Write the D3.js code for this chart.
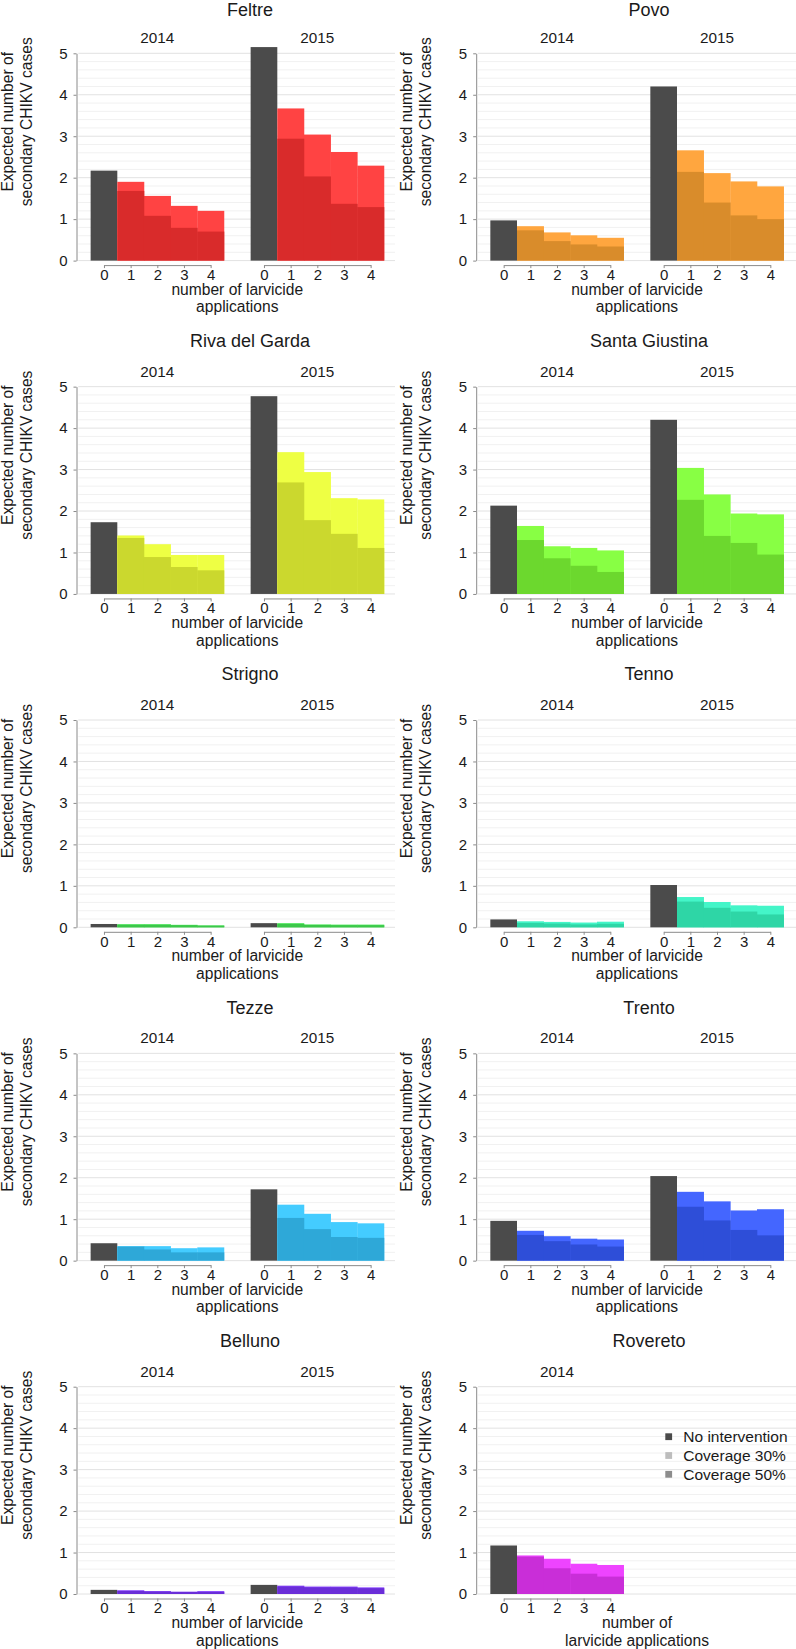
<!DOCTYPE html>
<html><head><meta charset="utf-8">
<script src="https://cdn.jsdelivr.net/npm/d3@7"></script>
<style>
body{margin:0;background:#fff}
text{font-family:"Liberation Sans",Arial,Helvetica,sans-serif;fill:#1a1a1a}
</style>
</head><body>
<svg id="chart" width="796" height="1649"></svg>
<script>
// ---------------- data ----------------
const municipalities = ["Feltre","Povo","Riva del Garda","Santa Giustina","Strigno","Tenno","Tezze","Trento","Belluno","Rovereto"];
const years = ["2014","2015"];
const applications = [0,1,2,3,4];
const yTicks = [0,1,2,3,4,5];

const noIntervention2014 = [2.17, 0.97, 1.73, 2.13, 0.08, 0.19, 0.42, 0.96, 0.10, 1.17];
const noIntervention2015 = [5.15, 4.20, 4.77, 4.20, 0.10, 1.02, 1.72, 2.04, 0.22, null];

const coverage30_2014 = [
  [1.90,1.56,1.32,1.20],
  [0.83,0.68,0.61,0.55],
  [1.41,1.20,0.94,0.94],
  [1.64,1.15,1.11,1.05],
  [0.075,0.075,0.06,0.045],
  [0.145,0.13,0.115,0.135],
  [0.35,0.35,0.30,0.32],
  [0.72,0.59,0.53,0.51],
  [0.09,0.07,0.055,0.07],
  [0.93,0.85,0.73,0.70]
];
const coverage50_2014 = [
  [1.68,1.08,0.79,0.70],
  [0.73,0.47,0.39,0.34],
  [1.35,0.89,0.65,0.57],
  [1.30,0.86,0.68,0.53],
  [0.06,0.06,0.05,0.04],
  [0.105,0.09,0.07,0.085],
  [0.34,0.27,0.20,0.20],
  [0.62,0.47,0.39,0.34],
  [0.075,0.06,0.05,0.05],
  [0.90,0.62,0.49,0.42]
];
const coverage30_2015 = [
  [3.67,3.04,2.62,2.29],
  [2.66,2.11,1.91,1.79],
  [3.42,2.94,2.31,2.28],
  [3.04,2.40,1.94,1.92],
  [0.10,0.07,0.065,0.065],
  [0.73,0.61,0.53,0.52],
  [1.35,1.13,0.93,0.90],
  [1.66,1.43,1.21,1.24],
  [0.20,0.18,0.18,0.16],
  null
];
const coverage50_2015 = [
  [2.94,2.03,1.37,1.29],
  [2.14,1.40,1.09,1.00],
  [2.69,1.78,1.45,1.11],
  [2.27,1.40,1.23,0.95],
  [0.08,0.055,0.05,0.05],
  [0.62,0.47,0.38,0.31],
  [1.03,0.76,0.57,0.55],
  [1.30,0.97,0.74,0.61],
  [0.18,0.16,0.16,0.14],
  null
];

const colors30 = ["#ff4343","#ffa63f","#eeff44","#88ff44","#4ce85a","#44f5c8","#44ccff","#4466ff","#8844ff","#ee44ff"];
const colors50 = ["#d92b2b","#d98c2b","#cbd82e","#6cd82e","#3cc84a","#2ed6a6","#2ea8d8","#2e4ed8","#6a2ed8","#c92ed8"];
const noInterventionColor = "#4b4b4b";

const legendLabels = ["No intervention","Coverage 30%","Coverage 50%"];
const legendColors = ["#4b4b4b","#bdbdbd","#8c8c8c"];

// ---------------- layout ----------------
const svg = d3.select("#chart");
const colLeft = [77.3, 477];
const titleX = [250, 649];
const rowTop0 = 53.3, rowPitch = 333.35, plotH = 207.3, facetW = 160;
const gridRight = [395, 796];
const axisColor = "#8a8a8a";

const fontTick = 15, fontStrip = 15.3, fontTitle = 18, fontLab = 15.6, fontLegend = 15.5;

municipalities.forEach((name, m) => {
  const row = Math.floor(m / 2), col = m % 2;
  const top = rowTop0 + rowPitch * row;
  const px = colLeft[col];
  const y = d3.scaleLinear().domain([0, 5]).range([top + plotH, top]);
  const g = svg.append("g");

  // gridlines
  const minor = d3.range(0, 26).map(i => i / 5);
  g.selectAll("line.minor").data(minor.filter(v => Math.abs(v - Math.round(v)) > 1e-6))
    .join("line")
    .attr("x1", px + 1).attr("x2", gridRight[col])
    .attr("y1", d => y(d)).attr("y2", d => y(d))
    .attr("stroke", "#f1f1f1").attr("stroke-width", 1);
  g.selectAll("line.major").data(yTicks).join("line")
    .attr("x1", px + 1).attr("x2", gridRight[col])
    .attr("y1", d => y(d)).attr("y2", d => y(d))
    .attr("stroke", "#e2e2e2").attr("stroke-width", 1);

  // title (kept fully inside the page)
  g.append("text").attr("x", titleX[col]).attr("y", Math.max(top - 39.8, 16.4))
    .attr("text-anchor", "middle")
    .style("font-size", fontTitle + "px").text(name);

  // y axis
  const yAxis = g.append("g").attr("transform", `translate(${px - 0.8},0)`)
    .call(d3.axisLeft(y).tickValues(yTicks).tickFormat(d3.format("d")).tickSize(3).tickSizeOuter(0).tickPadding(6));
  yAxis.selectAll("path,line").attr("stroke", axisColor);
  yAxis.selectAll("text").style("font-size", fontTick + "px").attr("fill", "#1a1a1a")
    .style("font-family", '"Liberation Sans",Arial,sans-serif');

  // y label
  const ylabY = top + 68.5;
  const ylabX0 = col === 0 ? 7.8 : 406.5;
  ["Expected number of", "secondary CHIKV cases"].forEach((t, i) => {
    g.append("text").attr("transform", `translate(${ylabX0 + i * 19},${ylabY}) rotate(-90)`)
      .attr("text-anchor", "middle").attr("dominant-baseline", "central")
      .style("font-size", fontLab + "px").text(t);
  });

  const facets = [
    {year: years[0], ni: noIntervention2014[m], c30: coverage30_2014[m], c50: coverage50_2014[m]},
    {year: years[1], ni: noIntervention2015[m], c30: coverage30_2015[m], c50: coverage50_2015[m]}
  ].filter(f => f.ni !== null);

  facets.forEach((f, fi) => {
    const fx = px + fi * facetW;
    const x = d3.scaleBand().domain(applications).range([fx, fx + facetW]).paddingInner(0).paddingOuter(0.5);
    const bw = x.bandwidth();

    // strip label
    g.append("text").attr("x", fx + facetW / 2).attr("y", top - 10)
      .attr("text-anchor", "middle")
      .style("font-size", fontStrip + "px").text(f.year);

    // bars
    g.append("rect").attr("x", x(0)).attr("width", bw)
      .attr("y", y(f.ni)).attr("height", y(0) - y(f.ni)).attr("fill", noInterventionColor);
    const treated = applications.slice(1);
    g.selectAll(null).data(treated.map((a, i) => ({a, v: f.c30[i]}))).join("rect")
      .attr("x", d => x(d.a)).attr("width", bw + 0.3)
      .attr("y", d => y(d.v)).attr("height", d => y(0) - y(d.v)).attr("fill", colors30[m]);
    g.selectAll(null).data(treated.map((a, i) => ({a, v: f.c50[i]}))).join("rect")
      .attr("x", d => x(d.a)).attr("width", bw + 0.3)
      .attr("y", d => y(d.v)).attr("height", d => y(0) - y(d.v)).attr("fill", colors50[m]);

    // x axis
    const xp = d3.scalePoint().domain(applications).range([x(0) + bw / 2, x(4) + bw / 2]);
    const xAxis = g.append("g").attr("transform", `translate(0,${y(0) + 4.5})`)
      .call(d3.axisBottom(xp).tickSize(3).tickSizeOuter(0).tickPadding(1));
    xAxis.selectAll("path,line").attr("stroke", axisColor);
    xAxis.selectAll("text").style("font-size", fontTick + "px").attr("fill", "#1a1a1a")
      .style("font-family", '"Liberation Sans",Arial,sans-serif')
      .attr("dy", null).attr("y", 14.8);
  });

  // x label
  const y0 = y(0);
  const xlabLines = facets.length === 2 ? ["number of larvicide", "applications"] : ["number of", "larvicide applications"];
  const xlabX = px + facetW;
  xlabLines.forEach((t, i) => {
    g.append("text").attr("x", xlabX).attr("y", y0 + 34 + i * 17.7)
      .attr("text-anchor", "middle")
      .style("font-size", fontLab + "px").text(t);
  });

  // legend (only in the Rovereto panel)
  if (facets.length === 1) {
    const ly = d3.scalePoint().domain(legendLabels).range([top + 50, top + 87.6]);
    const lg = g.append("g");
    lg.selectAll("rect").data(legendLabels).join("rect")
      .attr("x", 665.3).attr("y", d => ly(d) - 3.4).attr("width", 6.8).attr("height", 6.8)
      .attr("fill", (d, i) => legendColors[i]);
    lg.selectAll("text").data(legendLabels).join("text")
      .attr("x", 683.3).attr("y", d => ly(d)).attr("dominant-baseline", "central")
      .style("font-size", fontLegend + "px").text(d => d);
  }
});
</script>
</body></html>
